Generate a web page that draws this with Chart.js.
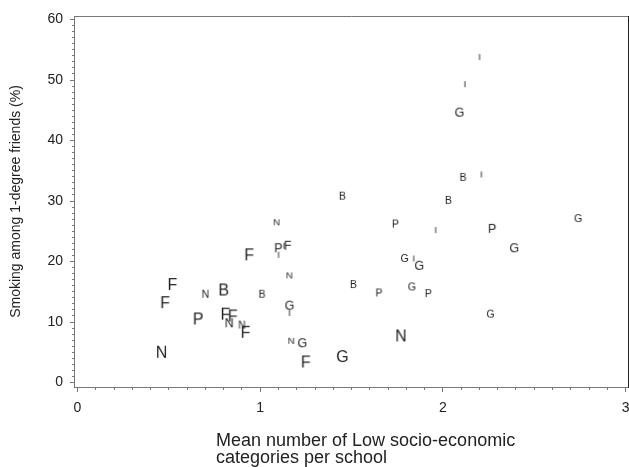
<!DOCTYPE html>
<html>
<head>
<meta charset="utf-8">
<script src="https://cdn.jsdelivr.net/npm/chart.js@4.4.0/dist/chart.umd.min.js"></script>
<style>
  html, body { margin: 0; padding: 0; background: #fff; }
  #wrap { width: 629px; height: 467px; }
</style>
</head>
<body>
<div id="wrap"><canvas id="chart" width="629" height="467"></canvas></div>
<script>
  // School codes printed as markers
  const schoolCodes = ['I','I','G','B','I','B','B','G','P','I','P','G','G','I','G','B','P','G','P','G','N','G','F',
                       'N','P','I','I','F','F','N','F','F','N','B','B','G','I','P','F','F','N','N','F','N','G','N'];
  // Mean number of low socio-economic categories per school
  const meanLowSES = [2.20, 2.12, 2.09, 2.11, 2.21, 1.45, 2.03, 2.74, 1.74, 1.96, 2.27, 2.39, 1.79, 1.84, 1.87, 1.51, 1.65, 1.83, 1.92, 2.26, 1.77, 1.45, 1.25,
                      1.09, 1.10, 1.10, 1.13, 1.15, 0.94, 1.16, 0.52, 0.48, 0.70, 0.80, 1.01, 1.16, 1.16, 0.66, 0.81, 0.85, 0.83, 0.90, 0.92, 1.17, 1.23, 0.46];
  // Smoking among 1-degree friends (%)
  const smokingPct = [53.8, 49.3, 44.6, 33.9, 34.4, 30.8, 30.1, 27.1, 26.2, 25.2, 25.4, 22.2, 20.5, 20.5, 19.3, 16.2, 14.8, 15.8, 14.7, 11.3, 7.7, 4.3, 3.4,
                      26.5, 22.2, 21.1, 22.6, 22.6, 21.1, 17.7, 16.2, 13.2, 14.6, 15.3, 14.6, 12.7, 11.5, 10.5, 11.3, 11.0, 9.8, 9.5, 8.3, 6.9, 6.5, 5.0];
  // Relative school size (1 = smallest)
  const schoolSize = [1, 1, 3, 2, 1, 2, 2, 2, 2, 1, 3, 3, 2, 1, 3, 2, 2, 2, 2, 2, 4, 4, 4,
                      1, 3, 1, 1, 3, 4, 1, 4, 4, 2, 4, 2, 3, 1, 4, 4, 4, 3, 2, 4, 1, 3, 4];

  const xTickLabels = [0, 1, 2, 3];
  const yTickLabels = [0, 10, 20, 30, 40, 50, 60];
  const xTitleLines = ['Mean number of Low socio-economic', 'categories per school'];
  const yTitle = 'Smoking among 1-degree friends (%)';

  const FONT = 'Arial, "Liberation Sans", sans-serif';
  const fontForSize = { 1: 9.5, 2: 10.5, 3: 12.5, 4: 16 };

  // minor tick positions
  const xMinorTicks = [];
  for (let i = 0; i <= 30; i++) xMinorTicks.push(i / 10);
  const yMinorTicks = [];
  for (let i = 0; i <= 60; i++) yMinorTicks.push(i);

  // Build a small canvas with a letter, used as point style
  const markerCache = {};
  function letterMarker(letter, size) {
    const key = letter + size;
    if (markerCache[key]) return markerCache[key];
    const px = fontForSize[size];
    const c = document.createElement('canvas');
    c.width = Math.ceil(px * 1.4);
    c.height = Math.ceil(px * 1.4);
    const g = c.getContext('2d');
    g.font = px + 'px ' + FONT;
    g.fillStyle = '#222';
    g.textAlign = 'center';
    g.textBaseline = 'alphabetic';
    g.fillText(letter, c.width / 2, c.height / 2 + px * 0.716 / 2);
    markerCache[key] = c;
    return c;
  }

  const points = meanLowSES.map((x, i) => ({ x: x, y: smokingPct[i] }));
  const markers = schoolCodes.map((code, i) => letterMarker(code, schoolSize[i]));

  const X_MIN = -0.019, X_MAX = 3.013;
  const Y_MIN = -0.74, Y_MAX = 60.58;

  // Axis title below x axis (left aligned, two lines)
  const xTitlePlugin = {
    id: 'xTitle',
    afterDraw(chart) {
      const ctx = chart.ctx;
      ctx.save();
      ctx.font = '18px ' + FONT;
      ctx.fillStyle = '#222';
      ctx.textAlign = 'left';
      ctx.textBaseline = 'middle';
      xTitleLines.forEach((line, i) => ctx.fillText(line, 216, 441 + i * 17));
      ctx.restore();
    }
  };

  const setTicks = list => axis => { axis.ticks = list.map(v => ({ value: v })); };
  const noPad = s => { s.paddingLeft = 0; s.paddingRight = 0; s.paddingTop = 0; s.paddingBottom = 0; };

  new Chart(document.getElementById('chart'), {
    type: 'scatter',
    data: {
      datasets: [{
        data: points,
        pointStyle: markers,
        pointRadius: 6,
        pointHoverRadius: 6,
        xAxisID: 'x',
        yAxisID: 'y'
      }]
    },
    options: {
      responsive: false,
      animation: false,
      events: [],
      layout: { autoPadding: false, padding: { top: 16, right: 1, left: 0, bottom: 0 } },
      plugins: { legend: { display: false }, tooltip: { enabled: false } },
      scales: {
        x: {
          type: 'linear', position: 'bottom', weight: 0,
          min: X_MIN, max: X_MAX,
          afterBuildTicks: setTicks(xTickLabels),
          afterFit: s => { s.height = 80; noPad(s); },
          ticks: { font: { size: 14, family: FONT }, color: '#222', padding: 8, maxRotation: 0, autoSkip: false, callback: v => String(v) },
          grid: { drawOnChartArea: false, tickLength: 5, color: '#777' },
          border: { color: '#777' }
        },
        xm: {
          type: 'linear', position: 'bottom', weight: -1,
          min: X_MIN, max: X_MAX,
          afterBuildTicks: setTicks(xMinorTicks),
          afterFit: s => { s.height = 0; noPad(s); },
          ticks: { display: false },
          grid: { drawOnChartArea: false, tickLength: 3, color: '#777' },
          border: { display: false }
        },
        y: {
          type: 'linear', position: 'left', weight: 0,
          min: Y_MIN, max: Y_MAX,
          afterBuildTicks: setTicks(yTickLabels),
          afterFit: s => { s.width = 74; noPad(s); },
          ticks: { font: { size: 14, family: FONT }, color: '#222', padding: 7, autoSkip: false, callback: v => String(v) },
          grid: { drawOnChartArea: false, tickLength: 4, color: '#777' },
          border: { color: '#777' },
          title: { display: true, text: yTitle, color: '#222', font: { size: 14, family: FONT }, padding: { top: 8, bottom: 0 } }
        },
        ym: {
          type: 'linear', position: 'left', weight: -1,
          min: Y_MIN, max: Y_MAX,
          afterBuildTicks: setTicks(yMinorTicks),
          afterFit: s => { s.width = 0; noPad(s); },
          ticks: { display: false },
          grid: { drawOnChartArea: false, tickLength: 2, color: '#777' },
          border: { display: false }
        },
        xt: {
          type: 'linear', position: 'top',
          afterFit: s => { s.height = 0; noPad(s); },
          ticks: { display: false },
          grid: { display: false },
          border: { color: '#777' }
        },
        yr: {
          type: 'linear', position: 'right',
          afterFit: s => { s.width = 0; noPad(s); },
          ticks: { display: false },
          grid: { display: false },
          border: { color: '#222' }
        }
      }
    },
    plugins: [xTitlePlugin]
  });
</script>
</body>
</html>
